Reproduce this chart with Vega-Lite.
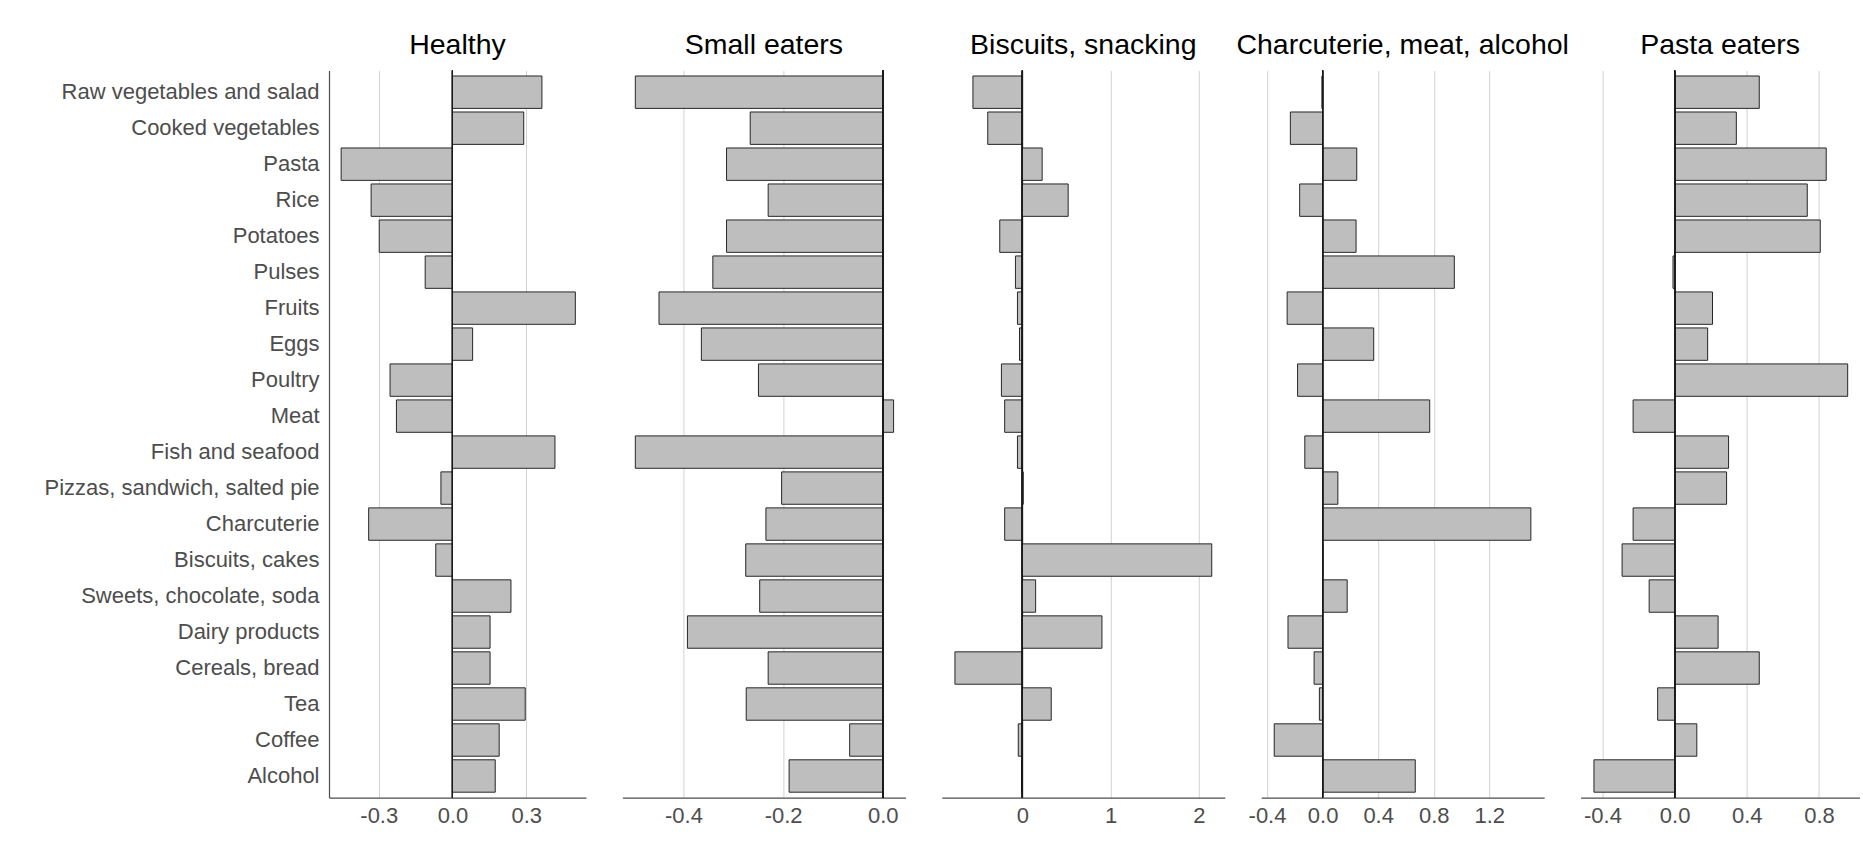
{
  "$schema": "https://vega.github.io/schema/vega-lite/v6.json",
  "background": "white",
  "padding": {"left": 43, "top": 30.6, "right": 0, "bottom": 12},
  "spacing": 36.4,
  "bounds": "flush",
  "config": {"view": {"stroke": null}, "font": "Liberation Sans"},
  "resolve": {"scale": {"x": "independent", "y": "independent"}},
  "datasets": {
    "d": [
      {"food": "Raw vegetables and salad", "cluster": "Healthy", "value": 0.364},
      {"food": "Cooked vegetables", "cluster": "Healthy", "value": 0.290},
      {"food": "Pasta", "cluster": "Healthy", "value": -0.453},
      {"food": "Rice", "cluster": "Healthy", "value": -0.331},
      {"food": "Potatoes", "cluster": "Healthy", "value": -0.298},
      {"food": "Pulses", "cluster": "Healthy", "value": -0.111},
      {"food": "Fruits", "cluster": "Healthy", "value": 0.500},
      {"food": "Eggs", "cluster": "Healthy", "value": 0.082},
      {"food": "Poultry", "cluster": "Healthy", "value": -0.254},
      {"food": "Meat", "cluster": "Healthy", "value": -0.228},
      {"food": "Fish and seafood", "cluster": "Healthy", "value": 0.417},
      {"food": "Pizzas, sandwich, salted pie", "cluster": "Healthy", "value": -0.047},
      {"food": "Charcuterie", "cluster": "Healthy", "value": -0.341},
      {"food": "Biscuits, cakes", "cluster": "Healthy", "value": -0.068},
      {"food": "Sweets, chocolate, soda", "cluster": "Healthy", "value": 0.238},
      {"food": "Dairy products", "cluster": "Healthy", "value": 0.153},
      {"food": "Cereals, bread", "cluster": "Healthy", "value": 0.153},
      {"food": "Tea", "cluster": "Healthy", "value": 0.296},
      {"food": "Coffee", "cluster": "Healthy", "value": 0.190},
      {"food": "Alcohol", "cluster": "Healthy", "value": 0.174},

      {"food": "Raw vegetables and salad", "cluster": "Small eaters", "value": -0.4965},
      {"food": "Cooked vegetables", "cluster": "Small eaters", "value": -0.266},
      {"food": "Pasta", "cluster": "Small eaters", "value": -0.3135},
      {"food": "Rice", "cluster": "Small eaters", "value": -0.230},
      {"food": "Potatoes", "cluster": "Small eaters", "value": -0.3135},
      {"food": "Pulses", "cluster": "Small eaters", "value": -0.341},
      {"food": "Fruits", "cluster": "Small eaters", "value": -0.449},
      {"food": "Eggs", "cluster": "Small eaters", "value": -0.364},
      {"food": "Poultry", "cluster": "Small eaters", "value": -0.2495},
      {"food": "Meat", "cluster": "Small eaters", "value": 0.0216},
      {"food": "Fish and seafood", "cluster": "Small eaters", "value": -0.4965},
      {"food": "Pizzas, sandwich, salted pie", "cluster": "Small eaters", "value": -0.203},
      {"food": "Charcuterie", "cluster": "Small eaters", "value": -0.2345},
      {"food": "Biscuits, cakes", "cluster": "Small eaters", "value": -0.275},
      {"food": "Sweets, chocolate, soda", "cluster": "Small eaters", "value": -0.247},
      {"food": "Dairy products", "cluster": "Small eaters", "value": -0.392},
      {"food": "Cereals, bread", "cluster": "Small eaters", "value": -0.230},
      {"food": "Tea", "cluster": "Small eaters", "value": -0.274},
      {"food": "Coffee", "cluster": "Small eaters", "value": -0.0665},
      {"food": "Alcohol", "cluster": "Small eaters", "value": -0.188},

      {"food": "Raw vegetables and salad", "cluster": "Biscuits, snacking", "value": -0.561},
      {"food": "Cooked vegetables", "cluster": "Biscuits, snacking", "value": -0.393},
      {"food": "Pasta", "cluster": "Biscuits, snacking", "value": 0.224},
      {"food": "Rice", "cluster": "Biscuits, snacking", "value": 0.519},
      {"food": "Potatoes", "cluster": "Biscuits, snacking", "value": -0.257},
      {"food": "Pulses", "cluster": "Biscuits, snacking", "value": -0.079},
      {"food": "Fruits", "cluster": "Biscuits, snacking", "value": -0.056},
      {"food": "Eggs", "cluster": "Biscuits, snacking", "value": -0.033},
      {"food": "Poultry", "cluster": "Biscuits, snacking", "value": -0.238},
      {"food": "Meat", "cluster": "Biscuits, snacking", "value": -0.201},
      {"food": "Fish and seafood", "cluster": "Biscuits, snacking", "value": -0.056},
      {"food": "Pizzas, sandwich, salted pie", "cluster": "Biscuits, snacking", "value": 0.01},
      {"food": "Charcuterie", "cluster": "Biscuits, snacking", "value": -0.201},
      {"food": "Biscuits, cakes", "cluster": "Biscuits, snacking", "value": 2.147},
      {"food": "Sweets, chocolate, soda", "cluster": "Biscuits, snacking", "value": 0.150},
      {"food": "Dairy products", "cluster": "Biscuits, snacking", "value": 0.902},
      {"food": "Cereals, bread", "cluster": "Biscuits, snacking", "value": -0.765},
      {"food": "Tea", "cluster": "Biscuits, snacking", "value": 0.327},
      {"food": "Coffee", "cluster": "Biscuits, snacking", "value": -0.047},
      {"food": "Alcohol", "cluster": "Biscuits, snacking", "value": -0.01},

      {"food": "Raw vegetables and salad", "cluster": "Charcuterie, meat, alcohol", "value": -0.005},
      {"food": "Cooked vegetables", "cluster": "Charcuterie, meat, alcohol", "value": -0.232},
      {"food": "Pasta", "cluster": "Charcuterie, meat, alcohol", "value": 0.246},
      {"food": "Rice", "cluster": "Charcuterie, meat, alcohol", "value": -0.165},
      {"food": "Potatoes", "cluster": "Charcuterie, meat, alcohol", "value": 0.241},
      {"food": "Pulses", "cluster": "Charcuterie, meat, alcohol", "value": 0.948},
      {"food": "Fruits", "cluster": "Charcuterie, meat, alcohol", "value": -0.255},
      {"food": "Eggs", "cluster": "Charcuterie, meat, alcohol", "value": 0.368},
      {"food": "Poultry", "cluster": "Charcuterie, meat, alcohol", "value": -0.180},
      {"food": "Meat", "cluster": "Charcuterie, meat, alcohol", "value": 0.771},
      {"food": "Fish and seafood", "cluster": "Charcuterie, meat, alcohol", "value": -0.128},
      {"food": "Pizzas, sandwich, salted pie", "cluster": "Charcuterie, meat, alcohol", "value": 0.110},
      {"food": "Charcuterie", "cluster": "Charcuterie, meat, alcohol", "value": 1.499},
      {"food": "Biscuits, cakes", "cluster": "Charcuterie, meat, alcohol", "value": 0.002},
      {"food": "Sweets, chocolate, soda", "cluster": "Charcuterie, meat, alcohol", "value": 0.177},
      {"food": "Dairy products", "cluster": "Charcuterie, meat, alcohol", "value": -0.249},
      {"food": "Cereals, bread", "cluster": "Charcuterie, meat, alcohol", "value": -0.061},
      {"food": "Tea", "cluster": "Charcuterie, meat, alcohol", "value": -0.023},
      {"food": "Coffee", "cluster": "Charcuterie, meat, alcohol", "value": -0.348},
      {"food": "Alcohol", "cluster": "Charcuterie, meat, alcohol", "value": 0.667},

      {"food": "Raw vegetables and salad", "cluster": "Pasta eaters", "value": 0.469},
      {"food": "Cooked vegetables", "cluster": "Pasta eaters", "value": 0.342},
      {"food": "Pasta", "cluster": "Pasta eaters", "value": 0.840},
      {"food": "Rice", "cluster": "Pasta eaters", "value": 0.735},
      {"food": "Potatoes", "cluster": "Pasta eaters", "value": 0.807},
      {"food": "Pulses", "cluster": "Pasta eaters", "value": -0.009},
      {"food": "Fruits", "cluster": "Pasta eaters", "value": 0.210},
      {"food": "Eggs", "cluster": "Pasta eaters", "value": 0.183},
      {"food": "Poultry", "cluster": "Pasta eaters", "value": 0.959},
      {"food": "Meat", "cluster": "Pasta eaters", "value": -0.230},
      {"food": "Fish and seafood", "cluster": "Pasta eaters", "value": 0.299},
      {"food": "Pizzas, sandwich, salted pie", "cluster": "Pasta eaters", "value": 0.288},
      {"food": "Charcuterie", "cluster": "Pasta eaters", "value": -0.230},
      {"food": "Biscuits, cakes", "cluster": "Pasta eaters", "value": -0.291},
      {"food": "Sweets, chocolate, soda", "cluster": "Pasta eaters", "value": -0.141},
      {"food": "Dairy products", "cluster": "Pasta eaters", "value": 0.241},
      {"food": "Cereals, bread", "cluster": "Pasta eaters", "value": 0.469},
      {"food": "Tea", "cluster": "Pasta eaters", "value": -0.094},
      {"food": "Coffee", "cluster": "Pasta eaters", "value": 0.123},
      {"food": "Alcohol", "cluster": "Pasta eaters", "value": -0.447}
    ]
  },
  "data": {"name": "d"},
  "hconcat": [
    {
      "width": 257, "height": 727,
      "title": {"text": "Healthy", "font": "Liberation Sans", "fontSize": 28.5, "fontWeight": "normal", "color": "black", "anchor": "middle", "frame": "group", "baseline": "alphabetic", "offset": -12.4},
      "transform": [{"filter": "datum.cluster === 'Healthy'"}],
      "layer": [
        {
          "mark": {"type": "bar", "fill": "#bebebe", "stroke": "#262626", "strokeWidth": 1},
          "encoding": {
            "y": {"field": "food", "type": "nominal", "sort": ["Raw vegetables and salad", "Cooked vegetables", "Pasta", "Rice", "Potatoes", "Pulses", "Fruits", "Eggs", "Poultry", "Meat", "Fish and seafood", "Pizzas, sandwich, salted pie", "Charcuterie", "Biscuits, cakes", "Sweets, chocolate, soda", "Dairy products", "Cereals, bread", "Tea", "Coffee", "Alcohol"],
              "scale": {"paddingInner": 0.1, "paddingOuter": 0.15},
              "axis": {"title": null, "ticks": false, "domain": true, "domainColor": "#4d4d4d", "domainWidth": 1.2, "labelFont": "Liberation Sans", "labelFontSize": 22, "labelColor": "#4d4d4d", "labelPadding": 10, "labelLimit": 0, "grid": false}},
            "x": {"field": "value", "type": "quantitative", "scale": {"domain": [-0.5024, 0.5434], "nice": false},
              "axis": {"title": null, "values": [-0.3, 0, 0.3], "labelExpr": "(datum.value < 0 ? '-' : '') + format(abs(datum.value), '.1f')", "grid": true, "gridColor": "#d2d2d2", "gridWidth": 1, "ticks": false, "domain": true, "domainColor": "#4d4d4d", "domainWidth": 1.2, "labelFont": "Liberation Sans", "labelFontSize": 22, "labelColor": "#4d4d4d", "labelPadding": 8, "labelFlush": false}},
            "x2": {"datum": 0}
          }
        },
        {"mark": {"type": "rule", "color": "#1a1a1a", "strokeWidth": 1}, "encoding": {"x": {"datum": 0}}}
      ]
    },
    {
      "width": 283, "height": 727,
      "title": {"text": "Small eaters", "font": "Liberation Sans", "fontSize": 28.5, "fontWeight": "normal", "color": "black", "anchor": "middle", "frame": "group", "baseline": "alphabetic", "offset": -12.4},
      "transform": [{"filter": "datum.cluster === 'Small eaters'"}],
      "layer": [
        {
          "mark": {"type": "bar", "fill": "#bebebe", "stroke": "#262626", "strokeWidth": 1},
          "encoding": {
            "y": {"field": "food", "type": "nominal", "sort": ["Raw vegetables and salad", "Cooked vegetables", "Pasta", "Rice", "Potatoes", "Pulses", "Fruits", "Eggs", "Poultry", "Meat", "Fish and seafood", "Pizzas, sandwich, salted pie", "Charcuterie", "Biscuits, cakes", "Sweets, chocolate, soda", "Dairy products", "Cereals, bread", "Tea", "Coffee", "Alcohol"],
              "scale": {"paddingInner": 0.1, "paddingOuter": 0.15}, "axis": null},
            "x": {"field": "value", "type": "quantitative", "scale": {"domain": [-0.5224, 0.0453], "nice": false},
              "axis": {"title": null, "values": [-0.4, -0.2, 0], "labelExpr": "(datum.value < 0 ? '-' : '') + format(abs(datum.value), '.1f')", "grid": true, "gridColor": "#d2d2d2", "gridWidth": 1, "ticks": false, "domain": true, "domainColor": "#4d4d4d", "domainWidth": 1.2, "labelFont": "Liberation Sans", "labelFontSize": 22, "labelColor": "#4d4d4d", "labelPadding": 8, "labelFlush": false}},
            "x2": {"datum": 0}
          }
        },
        {"mark": {"type": "rule", "color": "#1a1a1a", "strokeWidth": 1}, "encoding": {"x": {"datum": 0}}}
      ]
    },
    {
      "width": 283, "height": 727,
      "title": {"text": "Biscuits, snacking", "font": "Liberation Sans", "fontSize": 28.5, "fontWeight": "normal", "color": "black", "anchor": "middle", "frame": "group", "baseline": "alphabetic", "offset": -12.4},
      "transform": [{"filter": "datum.cluster === 'Biscuits, snacking'"}],
      "layer": [
        {
          "mark": {"type": "bar", "fill": "#bebebe", "stroke": "#262626", "strokeWidth": 1},
          "encoding": {
            "y": {"field": "food", "type": "nominal", "sort": ["Raw vegetables and salad", "Cooked vegetables", "Pasta", "Rice", "Potatoes", "Pulses", "Fruits", "Eggs", "Poultry", "Meat", "Fish and seafood", "Pizzas, sandwich, salted pie", "Charcuterie", "Biscuits, cakes", "Sweets, chocolate, soda", "Dairy products", "Cereals, bread", "Tea", "Coffee", "Alcohol"],
              "scale": {"paddingInner": 0.1, "paddingOuter": 0.15}, "axis": null},
            "x": {"field": "value", "type": "quantitative", "scale": {"domain": [-0.914, 2.295], "nice": false},
              "axis": {"title": null, "values": [0, 1, 2], "format": "d", "grid": true, "gridColor": "#d2d2d2", "gridWidth": 1, "ticks": false, "domain": true, "domainColor": "#4d4d4d", "domainWidth": 1.2, "labelFont": "Liberation Sans", "labelFontSize": 22, "labelColor": "#4d4d4d", "labelPadding": 8, "labelFlush": false}},
            "x2": {"datum": 0}
          }
        },
        {"mark": {"type": "rule", "color": "#1a1a1a", "strokeWidth": 1}, "encoding": {"x": {"datum": 0}}}
      ]
    },
    {
      "width": 283, "height": 727,
      "title": {"text": "Charcuterie, meat, alcohol", "font": "Liberation Sans", "fontSize": 28.5, "fontWeight": "normal", "color": "black", "anchor": "middle", "frame": "group", "baseline": "alphabetic", "offset": -12.4},
      "transform": [{"filter": "datum.cluster === 'Charcuterie, meat, alcohol'"}],
      "layer": [
        {
          "mark": {"type": "bar", "fill": "#bebebe", "stroke": "#262626", "strokeWidth": 1},
          "encoding": {
            "y": {"field": "food", "type": "nominal", "sort": ["Raw vegetables and salad", "Cooked vegetables", "Pasta", "Rice", "Potatoes", "Pulses", "Fruits", "Eggs", "Poultry", "Meat", "Fish and seafood", "Pizzas, sandwich, salted pie", "Charcuterie", "Biscuits, cakes", "Sweets, chocolate, soda", "Dairy products", "Cereals, bread", "Tea", "Coffee", "Alcohol"],
              "scale": {"paddingInner": 0.1, "paddingOuter": 0.15}, "axis": null},
            "x": {"field": "value", "type": "quantitative", "scale": {"domain": [-0.4418, 1.595], "nice": false},
              "axis": {"title": null, "values": [-0.4, 0, 0.4, 0.8, 1.2], "labelExpr": "(datum.value < 0 ? '-' : '') + format(abs(datum.value), '.1f')", "grid": true, "gridColor": "#d2d2d2", "gridWidth": 1, "ticks": false, "domain": true, "domainColor": "#4d4d4d", "domainWidth": 1.2, "labelFont": "Liberation Sans", "labelFontSize": 22, "labelColor": "#4d4d4d", "labelPadding": 8, "labelFlush": false}},
            "x2": {"datum": 0}
          }
        },
        {"mark": {"type": "rule", "color": "#1a1a1a", "strokeWidth": 1}, "encoding": {"x": {"datum": 0}}}
      ]
    },
    {
      "width": 279, "height": 727,
      "title": {"text": "Pasta eaters", "font": "Liberation Sans", "fontSize": 28.5, "fontWeight": "normal", "color": "black", "anchor": "middle", "frame": "group", "baseline": "alphabetic", "offset": -12.4},
      "transform": [{"filter": "datum.cluster === 'Pasta eaters'"}],
      "layer": [
        {
          "mark": {"type": "bar", "fill": "#bebebe", "stroke": "#262626", "strokeWidth": 1},
          "encoding": {
            "y": {"field": "food", "type": "nominal", "sort": ["Raw vegetables and salad", "Cooked vegetables", "Pasta", "Rice", "Potatoes", "Pulses", "Fruits", "Eggs", "Poultry", "Meat", "Fish and seafood", "Pizzas, sandwich, salted pie", "Charcuterie", "Biscuits, cakes", "Sweets, chocolate, soda", "Dairy products", "Cereals, bread", "Tea", "Coffee", "Alcohol"],
              "scale": {"paddingInner": 0.1, "paddingOuter": 0.15}, "axis": null},
            "x": {"field": "value", "type": "quantitative", "scale": {"domain": [-0.521, 1.025], "nice": false},
              "axis": {"title": null, "values": [-0.4, 0, 0.4, 0.8], "labelExpr": "(datum.value < 0 ? '-' : '') + format(abs(datum.value), '.1f')", "grid": true, "gridColor": "#d2d2d2", "gridWidth": 1, "ticks": false, "domain": true, "domainColor": "#4d4d4d", "domainWidth": 1.2, "labelFont": "Liberation Sans", "labelFontSize": 22, "labelColor": "#4d4d4d", "labelPadding": 8, "labelFlush": false}},
            "x2": {"datum": 0}
          }
        },
        {"mark": {"type": "rule", "color": "#1a1a1a", "strokeWidth": 1}, "encoding": {"x": {"datum": 0}}}
      ]
    }
  ]
}
